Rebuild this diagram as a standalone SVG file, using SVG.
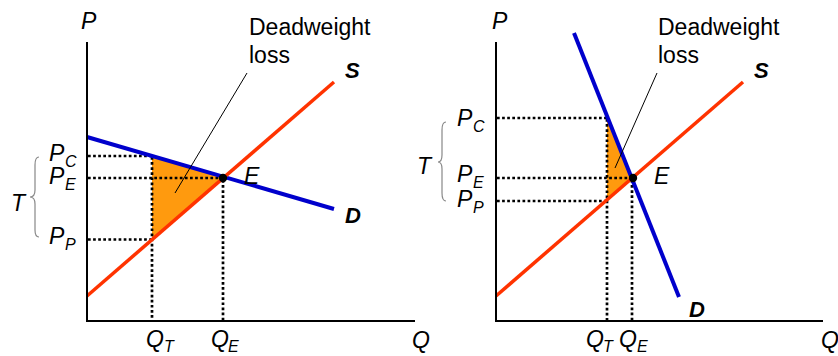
<svg xmlns="http://www.w3.org/2000/svg" width="838" height="356" viewBox="0 0 838 356">
<style>
text{font-family:"Liberation Sans",Arial,sans-serif;fill:#000}
.lab{font-size:23px;font-style:italic}
.sub{font-size:16px;font-style:italic}
.bold{font-size:22px;font-style:italic;font-weight:bold}
.txt{font-size:23px}
.axis{stroke:#000;stroke-width:2;fill:none}
.dot{stroke:#000;stroke-width:2.7;stroke-dasharray:2.7 2.4;fill:none}
.dem{stroke:#0000CC;stroke-width:4;fill:none}
.sup{stroke:#FF3300;stroke-width:3.5;fill:none}
.dwl{fill:#FF9A0E;stroke:none}
.lead{stroke:#000;stroke-width:1;fill:none}
.brace{stroke:#888;stroke-width:1.2;fill:none}
</style>
<rect width="838" height="356" fill="#fff"/>

<g id="left-panel">
  <g id="left-dwl"><polygon class="dwl" points="152,156 223,177.5 152,239.5"/></g>
  <g id="left-connectors">
    <line class="dot" x1="88" y1="156" x2="152" y2="156"/>
    <line class="dot" x1="88" y1="178" x2="223" y2="178"/>
    <line class="dot" x1="88" y1="239.5" x2="152" y2="239.5"/>
    <line class="dot" x1="152" y1="157" x2="152" y2="320"/>
    <line class="dot" x1="223" y1="180" x2="223" y2="320"/>
    <line class="dem" x1="87" y1="137" x2="334" y2="209"/>
    <line class="sup" x1="87" y1="296" x2="334" y2="82"/>
    <polyline class="axis" points="87,42 87,321 415,321"/>
    <line class="lead" x1="247" y1="73" x2="175" y2="193"/>
    <path class="brace" d="M39,157 Q35,157 35,165 L35,190 Q35,197 30,197 Q35,197 35,204 L35,230 Q35,237 39,237"/>
  </g>
  <g id="left-E"><circle cx="223" cy="178" r="4.2" fill="#000"/><text class="lab" x="244" y="184">E</text></g>
  <text class="lab" x="81" y="29">P</text>
  <text class="lab" x="412" y="348">Q</text>
  <text class="txt" x="249" y="35">Deadweight</text>
  <text class="txt" x="249" y="63">loss</text>
  <text class="bold" x="345" y="78">S</text>
  <text class="bold" x="345" y="223">D</text>
  <text class="lab" x="49" y="161">P</text><text class="sub" x="65" y="167">C</text>
  <text class="lab" x="49" y="184">P</text><text class="sub" x="65" y="190">E</text>
  <text class="lab" x="49" y="244">P</text><text class="sub" x="65" y="250">P</text>
  <text class="lab" x="11" y="211">T</text>
  <text class="lab" x="146" y="347">Q</text><text class="sub" x="164" y="352">T</text>
  <text class="lab" x="211" y="347">Q</text><text class="sub" x="228" y="352">E</text>
</g>

<g id="right-panel">
  <g id="right-dwl"><polygon class="dwl" points="607,118 632,177.5 607,200"/></g>
  <g id="right-connectors">
    <line class="dot" x1="497" y1="118" x2="607" y2="118"/>
    <line class="dot" x1="497" y1="178" x2="632" y2="178"/>
    <line class="dot" x1="497" y1="201" x2="607" y2="201"/>
    <line class="dot" x1="607" y1="119" x2="607" y2="320"/>
    <line class="dot" x1="632" y1="180" x2="632" y2="320"/>
    <line class="dem" x1="574" y1="33" x2="679" y2="297"/>
    <line class="sup" x1="496" y1="296" x2="743" y2="82"/>
    <polyline class="axis" points="496,42 496,321 823,321"/>
    <line class="lead" x1="657" y1="73" x2="615" y2="168"/>
    <path class="brace" d="M446,122 Q442,122 442,130 L442,155 Q442,162 438,162 Q442,162 442,169 L442,193 Q442,201 446,201"/>
  </g>
  <g id="right-E"><circle cx="633" cy="178" r="4.2" fill="#000"/><text class="lab" x="654" y="184">E</text></g>
  <text class="lab" x="492" y="29">P</text>
  <text class="lab" x="821" y="348">Q</text>
  <text class="txt" x="658" y="35">Deadweight</text>
  <text class="txt" x="658" y="63">loss</text>
  <text class="bold" x="754" y="78">S</text>
  <text class="bold" x="689" y="317">D</text>
  <text class="lab" x="457" y="126">P</text><text class="sub" x="473" y="132">C</text>
  <text class="lab" x="457" y="182">P</text><text class="sub" x="473" y="188">E</text>
  <text class="lab" x="457" y="207">P</text><text class="sub" x="473" y="213">P</text>
  <text class="lab" x="417" y="174">T</text>
  <text class="lab" x="586" y="347">Q</text><text class="sub" x="603" y="352">T</text>
  <text class="lab" x="619" y="347">Q</text><text class="sub" x="637" y="352">E</text>
</g>
</svg>
